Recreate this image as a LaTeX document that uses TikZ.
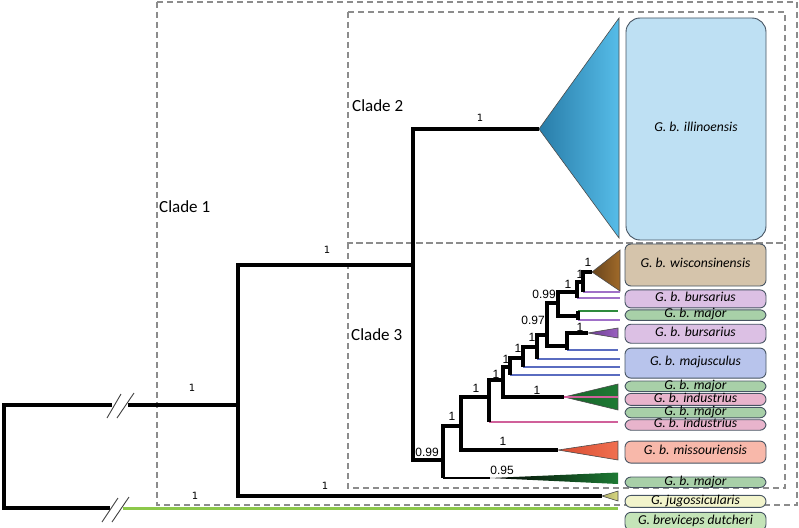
\documentclass[tikz,border=0pt]{standalone}
\usepackage{fontspec}
\setmainfont{Carlito}
\newfontfamily\supsf{Liberation Sans}
\newfontfamily\supdv{DejaVu Sans}
\usetikzlibrary{positioning}
\definecolor{dashgray}{RGB}{140,140,140}
\definecolor{boxedge}{RGB}{70,84,98}
\definecolor{illblue}{RGB}{190,224,243}
\definecolor{triblueA}{RGB}{40,124,168}
\definecolor{triblueB}{RGB}{86,188,232}
\definecolor{wistan}{RGB}{213,196,171}
\definecolor{brownA}{RGB}{104,68,28}
\definecolor{brownB}{RGB}{160,106,42}
\definecolor{burlav}{RGB}{220,192,228}
\definecolor{majgreen}{RGB}{168,208,168}
\definecolor{mjsblue}{RGB}{184,196,236}
\definecolor{indpink}{RGB}{232,180,204}
\definecolor{missalmon}{RGB}{248,184,170}
\definecolor{jugyellow}{RGB}{242,244,204}
\definecolor{brevgreen}{RGB}{196,228,184}
\definecolor{lnpurple}{RGB}{160,112,200}
\definecolor{lngreen}{RGB}{46,138,60}
\definecolor{lnblue}{RGB}{90,108,192}
\definecolor{lnpink}{RGB}{208,96,154}
\definecolor{lnlime}{RGB}{140,200,74}
\definecolor{darkgreen}{RGB}{30,122,52}
\definecolor{purpleA}{RGB}{106,60,144}
\definecolor{purpleB}{RGB}{154,96,192}
\definecolor{redA}{RGB}{216,74,48}
\definecolor{redB}{RGB}{240,112,80}
\definecolor{khaki}{RGB}{216,216,128}
\tikzset{
  cladebox/.style={draw=dashgray, line width=1.4pt, dash pattern=on 6pt off 4pt},
  cladelbl/.style={font=\fontsize{17}{19}\selectfont, inner sep=1pt, anchor=west},
  br/.style={line width=3.2pt, black},
  leaf/.style={line width=2.6pt},
  tri/.style={draw=black!70, line width=0.6pt},
  tipbox/.style={draw=boxedge, line width=0.9pt, rounded corners=6pt, minimum width=141pt, inner sep=0pt, text height=8pt, text depth=2.5pt, font=\fontsize{13.6}{15}\selectfont\itshape},
  supA/.style={font=\supdv\fontsize{10}{11}\selectfont, inner sep=0pt},
  supB/.style={font=\supsf\fontsize{12}{13}\selectfont, inner sep=0pt},
  brk/.style={line width=0.9pt, black!75},
}
\begin{document}
\begin{tikzpicture}[x=1pt, y=-1pt]
  \useasboundingbox (0,0) rectangle (799,527);
  % clade frames
  \draw[cladebox] (157,2) rectangle (797,505);
  \draw[cladebox] (348,12) rectangle (785,243);
  \draw[cladebox] (348,243) rectangle (785,488);
  \node[cladelbl] (c1) at (158,207) {Clade 1};
  \node[cladelbl] (c2) at (351,106) {Clade 2};
  \node[cladelbl] (c3) at (350,335) {Clade 3};

  % junctions
  \coordinate (root) at (4,456);
  \coordinate (n1) at (238,405);
  \coordinate (n2) at (413,265);
  \coordinate (n3) at (443,460);
  \coordinate (n4) at (461,426);
  \coordinate (n5) at (489,397);
  \coordinate (n6) at (503,380);
  \coordinate (n7) at (510,367);
  \coordinate (n8) at (523,358);
  \coordinate (n9) at (537,347);
  \coordinate (n10) at (547,335);
  \coordinate (n11) at (558,303);
  \coordinate (n12) at (577,292);
  \coordinate (n13) at (583,282);
  \coordinate (n14) at (578,316);
  \coordinate (n15) at (567,346);
  % tips and leaf ends
  \coordinate (brkA) at (112,405);
  \coordinate (brkA2) at (128,405);
  \coordinate (brkB) at (110,508);
  \coordinate (brkB2) at (123,508);
  \coordinate (tipIll) at (539,129);
  \coordinate (tipWis) at (592,272);
  \coordinate (tipBur) at (588,333);
  \coordinate (tipMaj1) at (564,397);
  \coordinate (tipMis) at (558,450);
  \coordinate (tipMaj2) at (490,478);
  \coordinate (tipJug) at (602,496);
  \coordinate (lBur1) at (620,292);
  \coordinate (lBur2) at (620,298);
  \coordinate (lMaj1) at (618,311);
  \coordinate (lBur3) at (620,320);
  \coordinate (lMjs1) at (618,350);
  \coordinate (lMjs2) at (620,359);
  \coordinate (lMjs3) at (620,367);
  \coordinate (lMjs4) at (620,375);
  \coordinate (lInd1) at (618,397);
  \coordinate (lInd2) at (618,422);
  \coordinate (lBrev) at (618,508);

  % collapsed clades
  \shade[tri, left color=triblueA, right color=triblueB] (tipIll) -- (619,18) -- (619,238) -- cycle;
  \shade[tri, left color=brownA, right color=brownB] (tipWis) -- (620,250) -- (620,291) -- cycle;
  \shade[tri, left color=purpleA, right color=purpleB] (tipBur) -- (618,328) -- (618,338) -- cycle;
  \shade[tri, left color=darkgreen!80!black, right color=darkgreen] (tipMaj1) -- (618,384) -- (618,410) -- cycle;
  \shade[tri, left color=redA, right color=redB] (tipMis) -- (618,441) -- (618,460) -- cycle;
  \shade[left color=black, right color=darkgreen] (tipMaj2) -- (618,472.5) -- (618,484) -- cycle;
  \shade[tri, left color=khaki!80!black, right color=khaki] (tipJug) -- (618,491) -- (618,501) -- cycle;

  % coloured terminal branches
  \draw[leaf, lnpurple] (n13 |- lBur1) -- (lBur1);
  \draw[leaf, lnpurple] (n12 |- lBur2) -- (lBur2);
  \draw[leaf, lngreen] (n14 |- lMaj1) -- (lMaj1);
  \draw[leaf, lnpurple] (n14 |- lBur3) -- (lBur3);
  \draw[leaf, lnblue] (n15 |- lMjs1) -- (lMjs1);
  \draw[leaf, lnblue] (n9 |- lMjs2) -- (lMjs2);
  \draw[leaf, lnblue] (n8 |- lMjs3) -- (lMjs3);
  \draw[leaf, lnblue] (n7 |- lMjs4) -- (lMjs4);
  \draw[leaf, lnpink] (tipMaj1) -- (lInd1);
  \draw[leaf, lnpink] (n5 |- lInd2) -- (lInd2);
  \draw[line width=3pt, lnlime] (brkB2) -- (lBrev);
  \draw[line width=1.2pt] (n3 |- tipMaj2) -- (tipMaj2);

  % tree
  \draw[br] (brkA) -| (root) |- (brkB);
  \draw[br] (brkA2) -- (n1);
  \draw[br] (n2) -| (n1) |- (tipJug);
  \draw[br] (tipIll) -| (n2) |- (n3);
  \draw[br] (n4) -| (n3) -- (n3 |- tipMaj2);
  \draw[br] (n5) -| (n4) |- (tipMis);
  \draw[br] (n6) -| (n5) -- (n5 |- lInd2);
  \draw[br] (n7) -| (n6) |- (tipMaj1);
  \draw[br] (n8) -| (n7) -- (n7 |- lMjs4);
  \draw[br] (n9) -| (n8) -- (n8 |- lMjs3);
  \draw[br] (n10) -| (n9) -- (n9 |- lMjs2);
  \draw[br] (n11) -| (n10) |- (n15);
  \draw[br] (tipBur) -| (n15) -- (n15 |- lMjs1);
  \draw[br] (n12) -| (n11) |- (n14);
  \draw[br] (n14 |- lMaj1) -- (n14 |- lBur3);
  \draw[br] (n13) -| (n12) -- (n12 |- lBur2);
  \draw[br] (tipWis) -| (n13) -- (n13 |- lBur1);

  % long-branch breaks
  \draw[brk] (107,418) -- (121,394);
  \draw[brk] (117,418) -- (134,393);
  \draw[brk] (102,522) -- (118,498);
  \draw[brk] (112,522) -- (129,497);

  % support values
  \foreach \p/\t [count=\i] in {(192,388)/1, (195,496)/1, (325,486)/1, (327,250)/1, (480,118)/1}
    \node[supA] (sa\i) at \p {\t};
  \foreach \p/\t [count=\i] in {(427,452)/0.99, (452,416)/1, (503,441)/1, (502,470)/0.95, (476,388)/1,
    (496,374)/1, (537,390)/1, (506,359)/1, (518,348)/1, (532,337)/1, (533,320)/0.97, (580,327)/1,
    (544,294)/0.99, (568,284)/1, (580,274)/1, (588,262)/1}
    \node[supB] (sb\i) at \p {\t};

  % taxon boxes
  \node[tipbox, fill=illblue, rounded corners=14pt, minimum width=140pt, minimum height=222pt] (ill) at (696,129) {G. b. illinoensis};
  \node[tipbox, fill=wistan, minimum height=42pt] (wis) at (695.5,265) {G. b. wisconsinensis};
  \node[tipbox, fill=burlav, minimum height=18pt, below=3pt of wis] (bur1) {G. b. bursarius};
  \node[tipbox, fill=majgreen, minimum height=10pt, below=1pt of bur1] (maj1) {G. b. major};
  \node[tipbox, fill=burlav, minimum height=19pt, below=3pt of maj1] (bur2) {G. b. bursarius};
  \node[tipbox, fill=mjsblue, minimum height=30pt, below=4pt of bur2] (mjs) {G. b. majusculus};
  \node[tipbox, fill=majgreen, minimum height=10pt, below=2pt of mjs] (maj2) {G. b. major};
  \node[tipbox, fill=indpink, minimum height=12pt, below=1pt of maj2] (ind1) {G. b. industrius};
  \node[tipbox, fill=majgreen, minimum height=10pt, below=1pt of ind1] (maj3) {G. b. major};
  \node[tipbox, fill=indpink, minimum height=10pt, below=1pt of maj3] (ind2) {G. b. industrius};
  \node[tipbox, fill=missalmon, minimum height=22pt, below=10pt of ind2] (mis) {G. b. missouriensis};
  \node[tipbox, fill=majgreen, minimum height=10pt, below=13pt of mis] (maj4) {G. b. major};
  \node[tipbox, fill=jugyellow, minimum height=12pt, below=7pt of maj4] (jug) {G. jugossicularis};
  \node[tipbox, fill=brevgreen, minimum height=18pt, below=4pt of jug] (brev) {G. breviceps dutcheri};
\end{tikzpicture}
\end{document}
